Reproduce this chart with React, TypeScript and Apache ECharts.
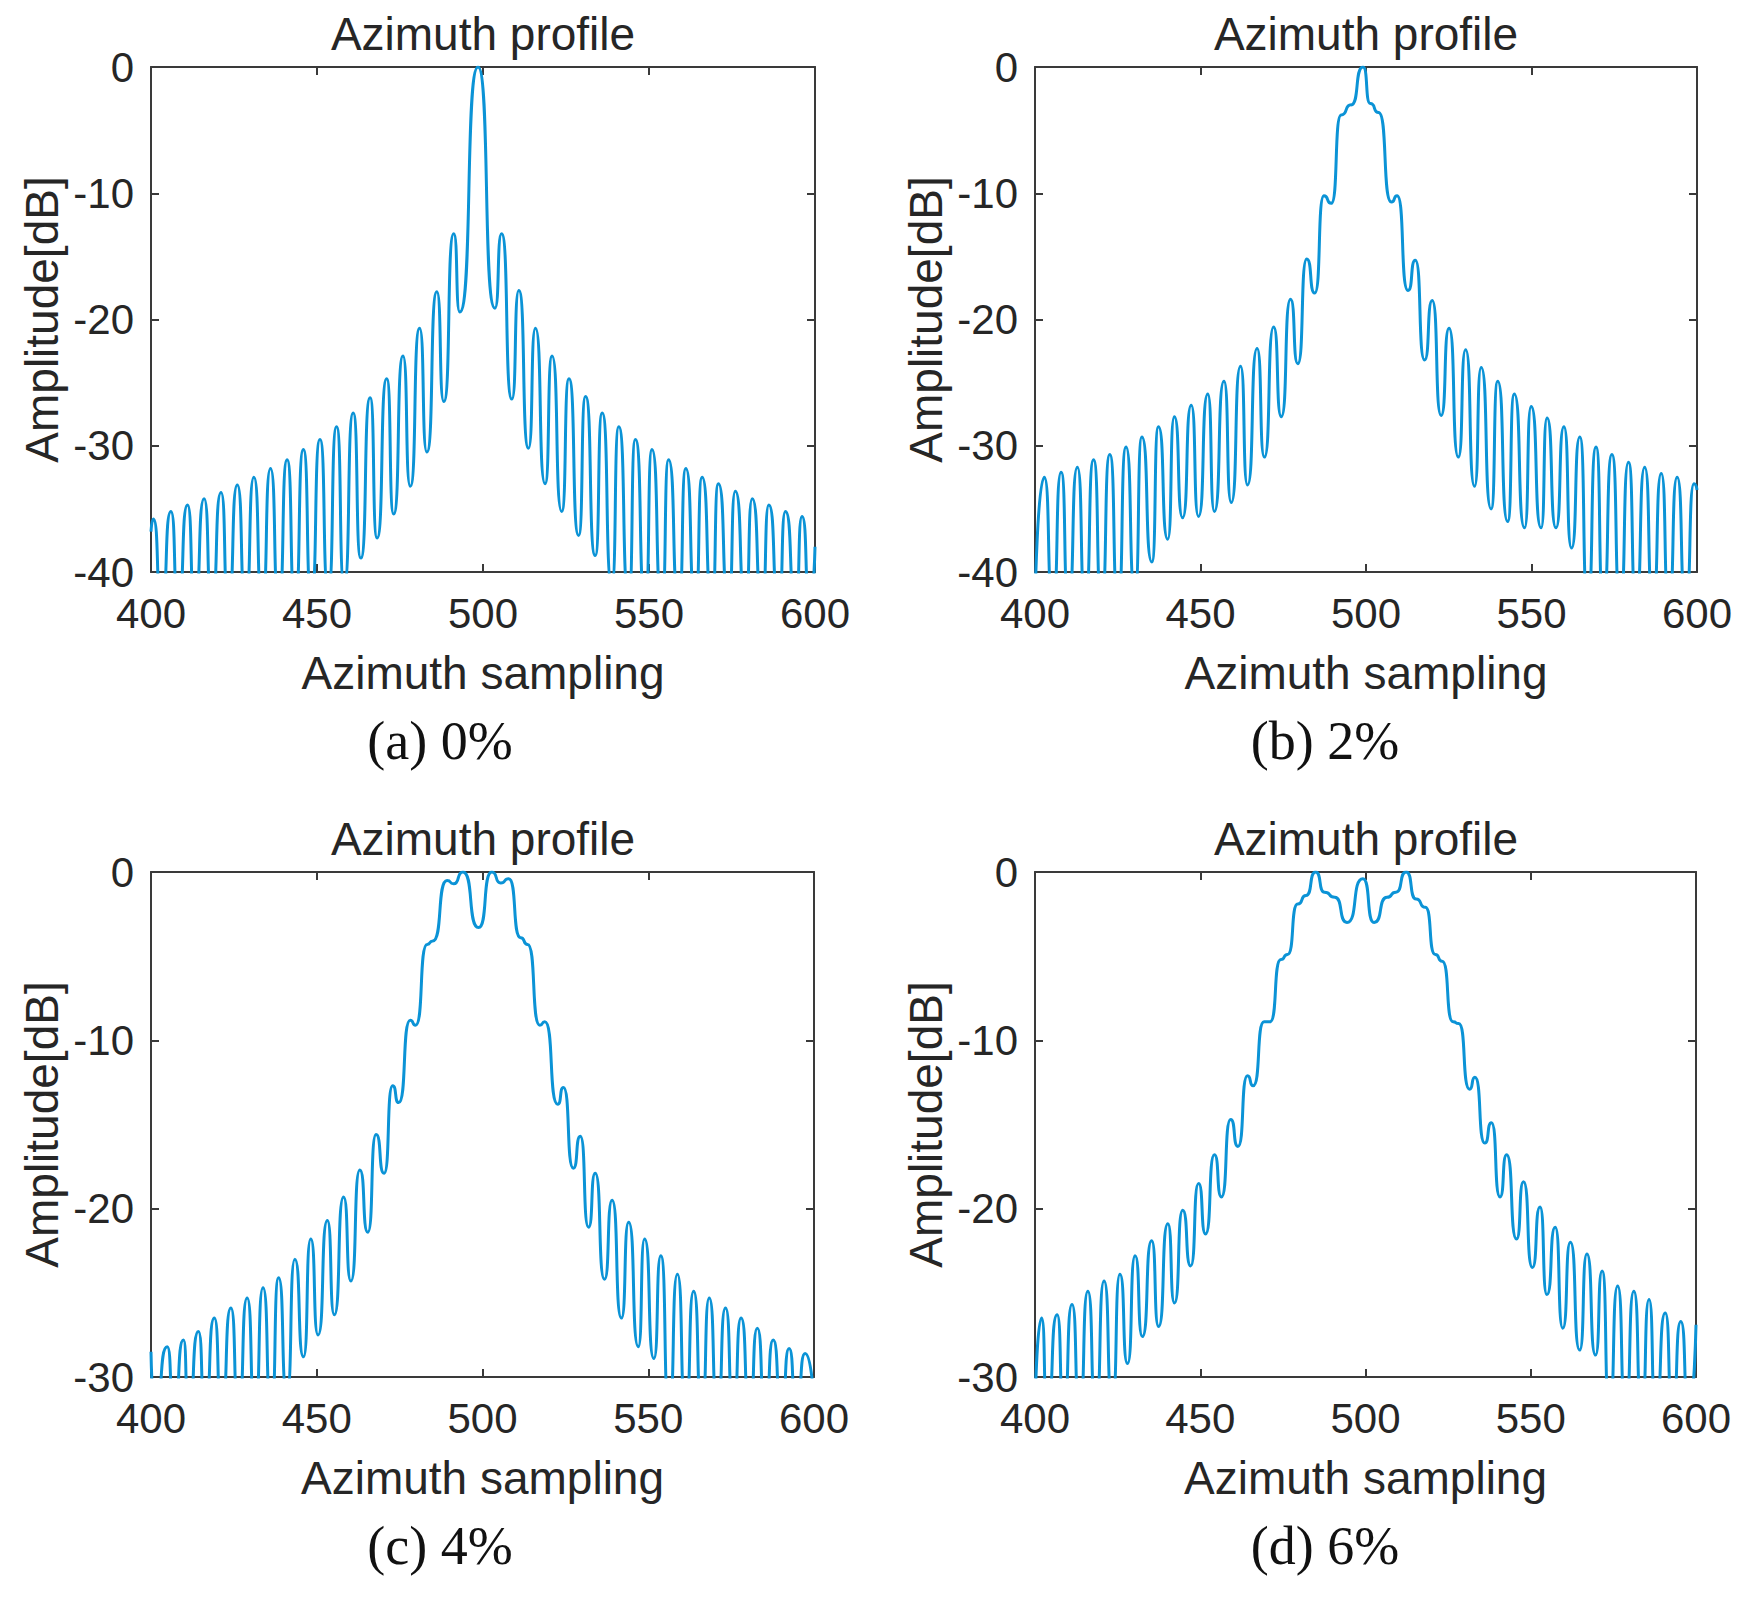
import React, { useEffect, useRef } from "react";
import * as echarts from "echarts";

type Pt = [number, number];

// ---------- data ----------
const xTicks = [400, 450, 500, 550, 600];
const panelTitles = ["Azimuth profile", "Azimuth profile", "Azimuth profile", "Azimuth profile"];
const captions = ["(a) 0%", "(b) 2%", "(c) 4%", "(d) 6%"];
const yMins = [-40, -40, -30, -30];
const xName = "Azimuth sampling";
const yName = "Amplitude[dB]";

// (a) 0%  — peaks and nulls (nulls below the axis floor are clipped)
const profileA: Pt[] = [
  [400, -36.8], [400.7, -35.8], [403.2, -42.5], [406.0, -35.2], [408.2, -42.5], [411.0, -34.7], [413.2, -42.5],
  [416.0, -34.2], [418.3, -42.5], [421.1, -33.7], [423.3, -42.5], [426.0, -33.1], [428.5, -42.5], [431.0, -32.5],
  [433.5, -42.5], [436.0, -31.8], [438.5, -42.5], [441.0, -31.1], [443.4, -42.5], [445.9, -30.3], [448.3, -42],
  [450.9, -29.5], [453.4, -41.5], [455.9, -28.5], [458.2, -41], [460.9, -27.4], [463.2, -38.9], [466.0, -26.2],
  [468.1, -37.3], [471.0, -24.7], [473.1, -35.4], [475.9, -22.9], [478.1, -33.2], [480.9, -20.7], [483.1, -30.5],
  [486.1, -17.8], [488.2, -26.5], [491.2, -13.2], [493.0, -19.4],
  [498.5, 0],
  [503.6, -19.1], [505.6, -13.2], [508.7, -26.3],
  [510.8, -17.7], [513.7, -30.2], [515.8, -20.7], [518.7, -33.0], [520.8, -22.9], [523.7, -35.2], [525.9, -24.7],
  [528.8, -37.1], [530.9, -26.1], [533.8, -38.7], [535.9, -27.4], [538.8, -41], [540.9, -28.5], [543.9, -42],
  [545.9, -29.5], [548.9, -42.5], [550.9, -30.3], [553.9, -42.5], [555.9, -31.1], [559.0, -42.5], [561.1, -31.8],
  [564.0, -42.5], [566.0, -32.5], [569.0, -42.5], [570.9, -33.0], [574.0, -42.5], [576.0, -33.6], [579.1, -42.5],
  [581.1, -34.2], [584.1, -42.5], [586.1, -34.7], [589.1, -42.5], [591.1, -35.2], [594.2, -42.5], [596.1, -35.6],
  [598.5, -42.5], [600, -38.0],
];

// (b) 2%
const profileB: Pt[] = [
  [400, -42.5], [402.8, -32.5], [405.4, -42.5], [407.9, -32.1], [410.1, -42.5], [412.8, -31.7], [415.2, -42.5],
  [417.7, -31.1], [420.1, -42.5], [422.6, -30.7], [425.1, -42.5], [427.5, -30.1], [430.2, -41.5], [432.3, -29.3],
  [435.3, -39.2], [437.3, -28.5], [440.1, -37.4], [442.1, -27.7], [444.6, -35.7], [447.2, -26.8], [449.4, -35.6],
  [452.2, -25.9], [454.2, -35.2], [457.1, -24.9], [459.3, -34.5], [462.1, -23.7], [464.2, -33.1], [467.1, -22.3],
  [469.3, -30.9], [472.1, -20.6], [474.4, -27.7], [477.2, -18.4], [479.4, -23.5], [482.1, -15.2], [484.5, -17.9],
  [487.3, -10.2], [489.5, -10.8], [492.5, -3.8], [495.5, -3.0], [499.1, 0], [501.3, -2.9], [503.8, -3.6],
  [507.7, -10.7], [509.4, -10.2], [512.7, -17.7], [514.9, -15.3], [517.7, -23.2], [520.0, -18.5], [522.7, -27.6],
  [525.1, -20.7], [527.9, -30.9], [530.1, -22.4], [532.8, -33.2], [534.8, -23.8], [537.8, -35.0], [539.8, -24.9],
  [542.8, -36.0], [544.8, -25.9], [547.9, -36.5], [549.9, -26.9], [552.9, -36.5], [554.7, -27.8], [557.4, -36.5],
  [559.8, -28.5], [562.1, -38.1], [564.6, -29.3], [567.0, -42.5], [569.5, -30.1], [571.7, -42.5], [574.3, -30.7],
  [576.8, -42.5], [579.3, -31.3], [581.6, -42.5], [584.2, -31.7], [586.7, -42.5], [589.2, -32.2], [591.5, -42.5],
  [594.0, -32.5], [596.6, -42.5], [599.1, -33.0], [600, -33.5],
];

// (c) 4%
const profileC: Pt[] = [
  [400, -28.5], [401.2, -32], [404.9, -28.2], [406.9, -32], [409.8, -27.8], [411.3, -32], [414.3, -27.3],
  [416.3, -32], [419.1, -26.5], [421.3, -32], [424.1, -25.9], [426.4, -32], [429.0, -25.3], [431.4, -32],
  [433.8, -24.7], [436.3, -32], [438.5, -24.1], [441.0, -31], [443.4, -23.0], [446.0, -28.8], [448.2, -21.8],
  [450.4, -27.5], [453.2, -20.7], [455.3, -26.3], [458.1, -19.3], [460.3, -24.3], [463.0, -17.7], [465.4, -21.4],
  [467.9, -15.6], [470.3, -17.9], [472.9, -12.7], [474.7, -13.7], [478.2, -8.8], [479.8, -9.1], [483.3, -4.3],
  [485.0, -4.1], [489.3, -0.5], [491.3, -0.7], [494.1, 0], [498.8, -3.3], [502.8, 0], [505.5, -0.65],
  [507.9, -0.4], [511.5, -3.9], [513.6, -4.3], [517.3, -9.1], [518.8, -8.9], [522.7, -13.8], [524.4, -12.8],
  [527.4, -17.6], [529.5, -15.7], [532.0, -21.1], [534.0, -17.9], [536.8, -24.2], [539.1, -19.5], [541.9, -26.5],
  [544.1, -20.8], [547.0, -28.2], [548.9, -21.8], [551.7, -28.9], [553.8, -22.8], [556.3, -32], [558.8, -23.9],
  [561.3, -32], [563.7, -24.9], [566.2, -32], [568.4, -25.3], [570.9, -32], [573.3, -25.9], [575.7, -32],
  [578.0, -26.5], [580.6, -32], [582.9, -27.1], [585.3, -32], [587.7, -27.8], [590.2, -32], [592.5, -28.3],
  [594.7, -32], [597.3, -28.6], [600, -31.5],
];

// (d) 6%
const profileD: Pt[] = [
  [400, -32], [402.0, -26.5], [403.7, -32], [406.7, -26.3], [408.7, -32], [411.2, -25.7], [413.5, -32],
  [416.0, -24.9], [418.4, -32], [420.9, -24.3], [423.4, -31.5], [425.7, -23.9], [428.0, -29.2], [430.3, -22.8],
  [432.5, -27.6], [435.3, -21.9], [437.4, -27.0], [440.2, -20.9], [442.2, -25.6], [444.7, -20.1], [447.1, -23.4],
  [449.5, -18.5], [451.6, -21.5], [454.3, -16.8], [456.4, -19.3], [459.2, -14.7], [461.4, -16.3], [464.3, -12.1],
  [466.0, -12.7], [469.3, -8.9], [471.1, -8.9], [474.4, -5.2], [476.4, -4.9], [479.5, -1.9], [482.0, -1.4],
  [484.9, 0], [487.6, -1.2], [490.7, -1.5], [494.4, -3.0], [499.2, -0.4], [502.6, -3.0], [506.5, -1.5],
  [509.2, -1.2], [512.3, 0], [515.3, -1.6], [518.1, -2.1], [521.1, -4.9], [523.2, -5.3], [526.5, -8.9],
  [528.2, -9.0], [531.5, -12.9], [533.1, -12.2], [536.1, -16.1], [538.1, -14.9], [540.7, -19.3], [542.7, -16.8],
  [545.7, -21.8], [547.8, -18.4], [550.5, -23.5], [552.8, -19.9], [554.9, -25.1], [557.4, -21.1], [559.7, -27.1],
  [562.0, -22.0], [564.8, -28.4], [567.0, -22.7], [569.6, -28.7], [571.6, -23.7], [573.8, -32], [576.3, -24.6],
  [578.7, -32], [581.2, -24.9], [583.6, -32], [585.8, -25.4], [587.8, -32], [590.7, -26.2], [592.9, -32],
  [595.4, -26.7], [597.8, -32], [600, -26.9],
];

const profiles = [profileA, profileB, profileC, profileD];

// ---------- layout & style ----------
const W = 1746;
const H = 1599;
const SANS = '"Liberation Sans", Arial, sans-serif';
const SERIF = '"Liberation Serif", "Times New Roman", serif';
const TXT = "#262626";
const AX = "#3a3a3a";
const LINE = "#0b93d6";

const grids = [
  { left: 151, top: 67, width: 664, height: 505 },
  { left: 1035, top: 67, width: 662, height: 505 },
  { left: 151, top: 872, width: 663, height: 505 },
  { left: 1035, top: 872, width: 661, height: 505 },
];
const titlePos = [
  [483, 34],
  [1366, 34],
  [483, 839],
  [1366, 839],
];
const captionPos = [
  [440, 741],
  [1325, 741],
  [440, 1546],
  [1325, 1546],
];

function buildOption(): echarts.EChartsOption {
  const axisLine = { show: true, onZero: false, lineStyle: { color: AX, width: 2 } };
  const axisTick = { show: true, inside: true, length: 8, lineStyle: { color: AX, width: 2 } };
  const xAxis: any[] = [];
  const yAxis: any[] = [];
  const series: any[] = [];
  const graphic: any[] = [];

  grids.forEach((_, i) => {
    const xMin = xTicks[0];
    const xMax = xTicks[xTicks.length - 1];
    const xInt = xTicks[1] - xTicks[0];
    xAxis.push({
      type: "value",
      gridIndex: i,
      position: "bottom",
      min: xMin,
      max: xMax,
      interval: xInt,
      axisLine,
      axisTick,
      splitLine: { show: false },
      axisLabel: { fontSize: 42, color: TXT, fontFamily: SANS, margin: 20 },
      name: xName,
      nameLocation: "middle",
      nameGap: 78,
      nameTextStyle: { fontSize: 46, color: TXT, fontFamily: SANS },
    });
    xAxis.push({
      type: "value",
      gridIndex: i,
      position: "top",
      min: xMin,
      max: xMax,
      interval: xInt,
      axisLine,
      axisTick,
      splitLine: { show: false },
      axisLabel: { show: false },
    });
    yAxis.push({
      type: "value",
      gridIndex: i,
      position: "left",
      min: yMins[i],
      max: 0,
      interval: 10,
      axisLine,
      axisTick,
      splitLine: { show: false },
      axisLabel: { fontSize: 42, color: TXT, fontFamily: SANS, margin: 17 },
      name: yName,
      nameLocation: "middle",
      nameRotate: 90,
      nameGap: 86,
      nameTextStyle: { fontSize: 46, color: TXT, fontFamily: SANS },
    });
    yAxis.push({
      type: "value",
      gridIndex: i,
      position: "right",
      min: yMins[i],
      max: 0,
      interval: 10,
      axisLine,
      axisTick,
      splitLine: { show: false },
      axisLabel: { show: false },
    });
    series.push({
      type: "line",
      xAxisIndex: 2 * i,
      yAxisIndex: 2 * i,
      data: profiles[i],
      showSymbol: false,
      symbol: "none",
      smooth: 0.72,
      smoothMonotone: "x",
      clip: true,
      silent: true,
      lineStyle: { color: LINE, width: 3 },
    });
    graphic.push({
      type: "text",
      x: titlePos[i][0],
      y: titlePos[i][1],
      style: {
        text: panelTitles[i],
        font: `46px ${SANS}`,
        fill: TXT,
        align: "center",
        verticalAlign: "middle",
        textAlign: "center",
        textVerticalAlign: "middle",
      },
    });
    graphic.push({
      type: "text",
      x: captionPos[i][0],
      y: captionPos[i][1],
      style: {
        text: captions[i],
        font: `54px ${SERIF}`,
        fill: "#111",
        align: "center",
        verticalAlign: "middle",
        textAlign: "center",
        textVerticalAlign: "middle",
      },
    });
  });

  return {
    animation: false,
    backgroundColor: "#ffffff",
    grid: grids.map((g) => ({ ...g, containLabel: false, show: false })),
    xAxis,
    yAxis,
    series,
    graphic,
  };
}

export default function App() {
  const ref = useRef<HTMLDivElement>(null);
  useEffect(() => {
    document.body.style.margin = "0";
    document.body.style.overflow = "hidden";
    if (!ref.current) return;
    const chart = echarts.init(ref.current, undefined, { renderer: "svg", width: W, height: H });
    chart.setOption(buildOption());
    return () => chart.dispose();
  }, []);
  return <div ref={ref} style={{ width: W, height: H, background: "#fff" }} />;
}
